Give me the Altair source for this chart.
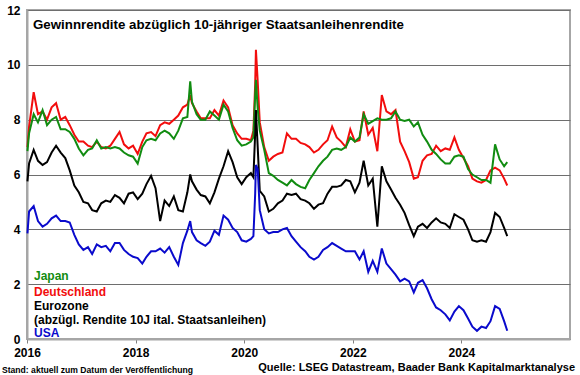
import altair as alt
import pandas as pd

# monthly mid-month observations Jan 2016 .. Oct 2024
MONTHS = [f"{y}-{m:02d}-15" for y in range(2016, 2025) for m in range(1, 13)][:106]
# extra observations: series start, Jan-2019 spike, Covid spike, series end
EXTRA_DATES = ["2016-01-04", "2019-01-03", "2020-03-03", "2020-03-20", "2020-04-01", "2024-11-05"]

japan = [
    7.5, 8.2, 7.9, 8.35, 7.8, 8.0, 8.1, 7.65, 7.65, 7.55, 7.3, 6.95,
    6.7, 6.9, 6.95, 7.25, 6.95, 7.0, 6.95, 7.0, 6.95, 6.8, 6.7, 6.65,
    6.4, 7.0, 7.25, 7.3, 7.25, 7.5, 7.6, 7.5, 7.3, 7.6, 8.05, 8.1,
    8.65, 8.2, 8.0, 8.0, 8.3, 8.15, 8.0, 8.55, 8.3, 7.7, 7.25, 7.05,
    7.1, 7.2, 8.9, 7.6, 6.9, 6.05, 5.95, 5.8, 5.7, 5.6, 5.8, 5.65,
    5.55, 5.5, 5.8, 6.05, 6.3, 6.5, 6.65, 6.9, 6.95, 6.9, 7.0, 7.35,
    7.2, 7.35, 8.2, 7.85, 7.95, 8.05, 8.0, 8.0, 8.05, 8.3, 8.0, 7.95,
    8.0, 7.75, 7.9, 7.45, 7.2, 6.9, 6.75, 6.55, 6.4, 6.4, 6.65, 6.7,
    6.65, 6.2, 6.0, 5.9, 5.8, 5.8, 5.7, 7.1, 6.55, 6.3,
]
japan_extra = [6.85, 9.4, 7.35, 9.45, 8.4, 6.45]

deutschland = [
    7.75, 9.0, 8.2, 8.3, 8.0, 8.45, 8.6, 8.0, 8.1, 7.8, 7.45, 7.2,
    7.2, 7.05, 7.0, 7.2, 7.0, 6.95, 7.05, 7.3, 7.55, 7.1, 6.95, 7.05,
    6.75, 7.2, 7.5, 7.55, 7.4, 7.8, 7.9, 7.85, 8.0, 8.15, 8.45, 8.55,
    8.6, 8.3, 8.05, 8.05, 8.05, 8.35, 8.15, 8.7, 8.45, 7.8, 7.5, 7.3,
    7.3, 7.25, 9.3, 7.9, 7.0, 6.5, 6.65, 6.75, 6.8, 7.5, 7.3, 7.3,
    7.15, 7.1, 7.0, 6.8, 6.9, 7.1, 7.25, 7.75, 7.35, 7.2, 7.0, 7.65,
    7.2, 7.25, 8.3, 7.45, 7.7, 6.85, 8.9, 8.3, 8.2, 8.35, 7.2, 6.85,
    6.45, 5.85, 5.9, 6.5, 6.7, 6.75, 7.05, 6.85, 6.95, 6.9, 7.35, 6.9,
    6.6, 6.3, 5.85, 5.75, 5.7, 5.8, 6.15, 6.25, 6.15, 5.85,
]
deutschland_extra = [7.0, 8.9, 7.6, 10.55, 9.4, 5.6]

eurozone = [
    6.4, 6.9, 6.5, 6.35, 6.45, 6.8, 7.05, 6.8, 6.6, 6.15, 5.6, 5.35,
    5.0, 4.95, 4.7, 4.65, 4.95, 5.05, 5.0, 5.25, 5.15, 4.95, 5.3, 5.35,
    5.1, 5.3, 5.65, 5.95, 5.5, 4.3, 5.05, 4.85, 5.2, 4.7, 4.65, 5.35,
    5.75, 5.45, 5.25, 5.2, 4.95, 5.35, 5.85, 6.3, 6.85, 6.45, 5.9, 5.65,
    5.9, 6.05, 7.5, 5.4, 5.2, 4.65, 4.75, 4.95, 5.05, 5.3, 5.25, 5.3,
    5.1, 5.05, 4.95, 4.75, 4.9, 4.95, 5.3, 5.55, 5.55, 5.6, 5.8, 5.75,
    5.35, 5.7, 6.5, 5.6, 5.85, 4.1, 6.3, 5.75, 5.45, 5.15, 4.9, 4.6,
    4.15, 3.75, 4.1, 4.2, 4.05, 4.25, 4.4, 4.25, 4.2, 4.05, 4.55, 4.45,
    4.35, 4.0, 3.6, 3.55, 3.6, 3.55, 3.9, 4.6, 4.45, 4.05,
]
eurozone_extra = [5.75, 6.0, 5.9, 8.35, 7.0, 3.75]

usa = [
    4.65, 4.85, 4.3, 4.1, 4.2, 4.4, 4.5, 4.3, 4.3, 4.25, 3.8, 3.45,
    3.25, 3.35, 3.1, 3.45, 3.35, 3.4, 3.2, 3.5, 3.5, 3.25, 3.1, 3.0,
    2.95, 2.75, 3.0, 3.2, 3.2, 3.3, 3.15, 3.35, 3.0, 2.7, 3.5, 3.95,
    3.9, 3.6, 3.5, 3.4, 3.55, 3.95, 3.8, 4.5, 4.35, 4.05, 3.9, 3.6,
    3.55, 3.65, 5.3, 4.7, 4.0, 3.85, 3.9, 3.9, 4.0, 4.05, 3.75, 3.55,
    3.35, 3.2, 3.0, 2.9, 3.0, 3.25, 3.35, 3.5, 3.4, 3.3, 3.2, 3.2,
    3.2, 2.9, 3.2, 2.45, 2.85, 2.45, 3.3, 2.75, 2.55, 2.35, 2.1, 2.2,
    2.1, 1.7, 2.05, 2.15, 1.85, 1.45, 1.15, 1.05, 0.9, 0.68, 1.0, 1.2,
    1.05, 0.75, 0.45, 0.3, 0.45, 0.4, 0.65, 1.2, 1.1, 0.65,
]
usa_extra = [3.85, 4.3, 3.75, 6.35, 6.2, 0.3]

SERIES = ["Japan", "Deutschland", "Eurozone", "USA"]
COLORS = {"Japan": "#118c11", "Deutschland": "#f20d0d", "Eurozone": "#000000", "USA": "#0a0acc"}
VALUES = {"Japan": (japan, japan_extra), "Deutschland": (deutschland, deutschland_extra),
          "Eurozone": (eurozone, eurozone_extra), "USA": (usa, usa_extra)}

TITLE = "Gewinnrendite abzüglich 10-jähriger Staatsanleihenrendite"
LABELS = ["Japan", "Deutschland", "Eurozone", "(abzügl. Rendite 10J ital. Staatsanleihen)", "USA"]
LABEL_COLORS = [COLORS["Japan"], COLORS["Deutschland"], "#000000", "#000000", COLORS["USA"]]
SOURCE = "Quelle: LSEG Datastream, Baader Bank Kapitalmarktanalyse"
STAND = "Stand: aktuell zum Datum der Veröffentlichung"

FONT = "Liberation Sans, Arial, sans-serif"


def frame(name):
    vals, extra = VALUES[name]
    df = pd.DataFrame({"date": MONTHS + EXTRA_DATES, "value": vals + extra})
    d = pd.to_datetime(df["date"])
    days = d.dt.is_leap_year.map({True: 366, False: 365})
    df["t"] = d.dt.year + (d.dt.dayofyear - 1) / days
    df["series"] = name
    return df.sort_values("t")


W, H = 543, 329
xscale = alt.Scale(domain=[2016, 2026], nice=False, zero=False)
yscale = alt.Scale(domain=[0, 12], nice=False)
xaxis = alt.Axis(values=[2016, 2018, 2020, 2022, 2024], format="d", grid=False,
                 labelFont=FONT, labelFontSize=12, labelFontWeight="bold", labelColor="#000000",
                 tickSize=4, tickColor="#808080", domainColor="#a6a6a6", domainWidth=2,
                 labelPadding=4, title=None, labelFlush=False)
yaxis = alt.Axis(values=[0, 2, 4, 6, 8, 10, 12], grid=True, gridColor="#6e6e6e", gridWidth=1,
                 labelFont=FONT, labelFontSize=12, labelFontWeight="bold", labelColor="#000000",
                 tickSize=0, labelPadding=7, domainColor="#a6a6a6", domainWidth=2, title=None)

layers = []
for name in ["Deutschland", "Japan", "Eurozone", "USA"]:
    layers.append(
        alt.Chart(frame(name)).mark_line(color=COLORS[name], strokeWidth=2, interpolate="linear").encode(
            x=alt.X("t:Q", scale=xscale, axis=xaxis),
            y=alt.Y("value:Q", scale=yscale, axis=yaxis),
            order="t:Q",
        )
    )

title = alt.Chart(pd.DataFrame({"text": [TITLE]})).mark_text(
    align="left", baseline="middle", font=FONT, fontSize=13.3, fontWeight="bold", color="#000000"
).encode(x=alt.value(6), y=alt.value(15), text="text:N")

label_layers = []
for i, (txt, col) in enumerate(zip(LABELS, LABEL_COLORS)):
    label_layers.append(
        alt.Chart(pd.DataFrame({"text": [txt]})).mark_text(
            align="left", baseline="middle", font=FONT, fontSize=12, fontWeight="bold", color=col
        ).encode(x=alt.value(7), y=alt.value([266, 282, 296, 310, 323][i]), text="text:N")
    )

source = alt.Chart(pd.DataFrame({"text": [SOURCE]})).mark_text(
    align="right", baseline="middle", font=FONT, fontSize=11, fontWeight="bold", color="#000000"
).encode(x=alt.value(548), y=alt.value(358), text="text:N")

stand = alt.Chart(pd.DataFrame({"text": [STAND]})).mark_text(
    align="left", baseline="middle", font=FONT, fontSize=8.6, fontWeight="bold", color="#000000"
).encode(x=alt.value(-25), y=alt.value(360), text="text:N")

chart = alt.layer(*layers, title, *label_layers, source, stand).properties(
    width=W, height=H,
    autosize=alt.AutoSizeParams(type="none"),
    padding={"left": 27, "top": 10, "right": 10, "bottom": 36},
    background="#ffffff",
).configure_view(stroke="#a6a6a6", strokeWidth=2)

chart.save("out.html", embed_options={"renderer": "svg", "actions": False})
